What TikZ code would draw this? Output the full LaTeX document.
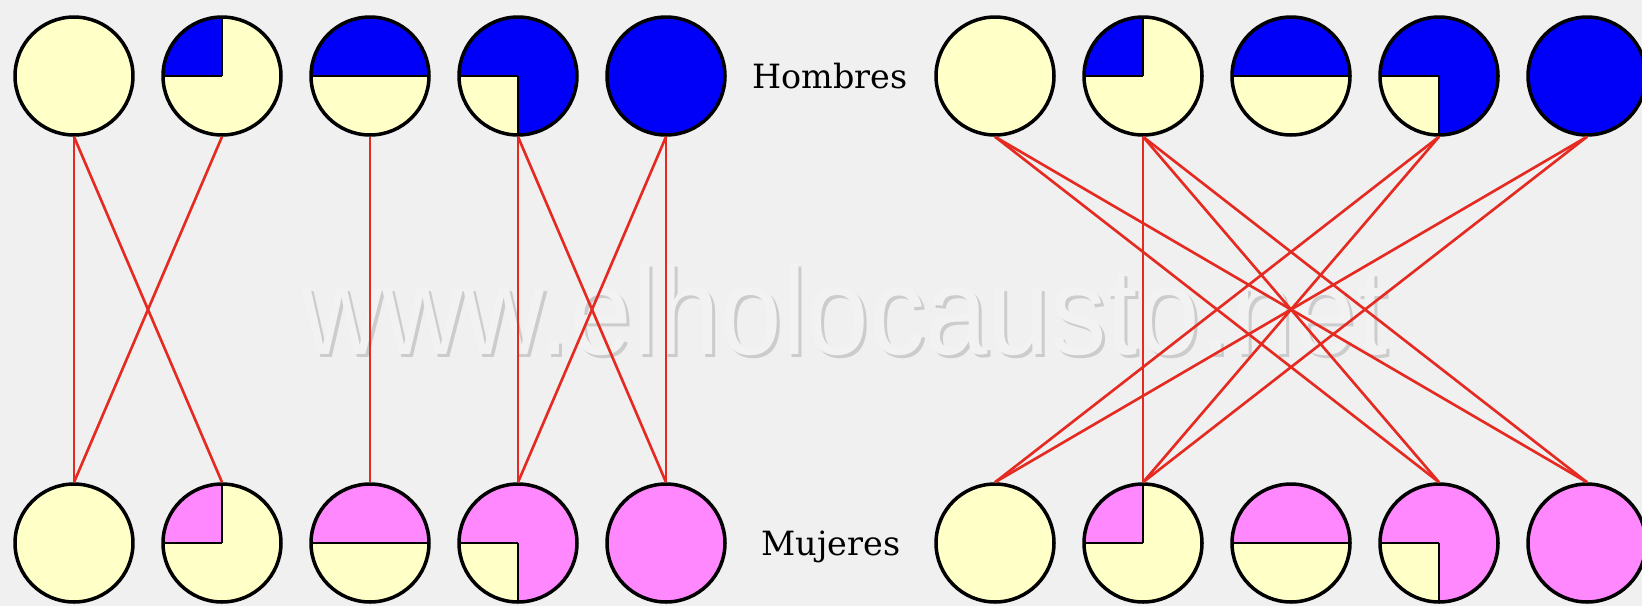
\documentclass[tikz,border=0pt]{standalone}
\usepackage{fontspec}
\setmainfont{DejaVu Serif}
\newfontfamily\marcafont{Liberation Sans}
\definecolor{fondo}{HTML}{F0F0F0}
\definecolor{crema}{HTML}{FFFFC8}
\definecolor{azul}{HTML}{0000F8}
\definecolor{rosa}{HTML}{FF88FF}
\definecolor{rojo}{HTML}{E52A22}
\tikzset{
  ficha/.style={circle, draw, line width=2pt, minimum size=2.36cm, inner sep=0pt, fill=crema},
  vacia/.style={},
  cuarto/.style={path picture={
      \fill[#1] (path picture bounding box.center) rectangle ++(-1.3cm,1.3cm);
      \draw[line width=.9pt] (path picture bounding box.center) -- ++(-1.3cm,0)
        (path picture bounding box.center) -- ++(0,1.3cm);}},
  medio/.style={path picture={
      \fill[#1] (path picture bounding box.center) ++(-1.3cm,0) rectangle ++(2.6cm,1.3cm);
      \draw[line width=.9pt] (path picture bounding box.center) ++(-1.3cm,0) -- ++(2.6cm,0);}},
  trescuartos/.style={fill=#1, path picture={
      \fill[crema] (path picture bounding box.center) rectangle ++(-1.3cm,-1.3cm);
      \draw[line width=.9pt] (path picture bounding box.center) -- ++(-1.3cm,0)
        (path picture bounding box.center) -- ++(0,-1.3cm);}},
  lleno/.style={fill=#1},
  cruce/.style={draw=rojo, line width=1.5pt},
  rotulo/.style={anchor=base, font=\fontsize{19}{19}\selectfont},
  marca/.style={anchor=base west, xscale=0.9, font=\marcafont\fontsize{71}{71}\selectfont}
}

\begin{document}
\begin{tikzpicture}[x=0.02cm, y=-0.02cm]
\fill[fondo] (0,0) rectangle (1642,606);
\useasboundingbox (0,0) rectangle (1642,606);

% marca de agua
\node[marca, text=black!20] (sombra) at (299,357) {www.elholocausto.net};
\node[marca, text=white!95!black] (web) at (296,354) {www.elholocausto.net};

% fichas: hombres arriba, mujeres abajo
\foreach \lado/\xo in {i/74,d/995} {
  \foreach \tipo [count=\k] in {vacia,cuarto,medio,trescuartos,lleno} {
    \node[ficha, \tipo=azul] (h\lado\k) at ({\xo+148*(\k-1)},76) {};
    \node[ficha, \tipo=rosa] (m\lado\k) at ({\xo+148*(\k-1)},543) {};
  }
}

\node[rotulo] (hombres) at (830,88) {Hombres};
\node[rotulo] (mujeres) at (831,555) {Mujeres};

% cruces
\foreach \a/\b in {1/1,1/2,2/1,3/3,4/4,4/5,5/4,5/5}
  \draw[cruce] (hi\a.south) -- (mi\b.north);
\foreach \a/\b in {1/4,1/5,2/2,2/4,2/5,4/1,4/2,5/1,5/2}
  \draw[cruce] (hd\a.south) -- (md\b.north);
\end{tikzpicture}
\end{document}
